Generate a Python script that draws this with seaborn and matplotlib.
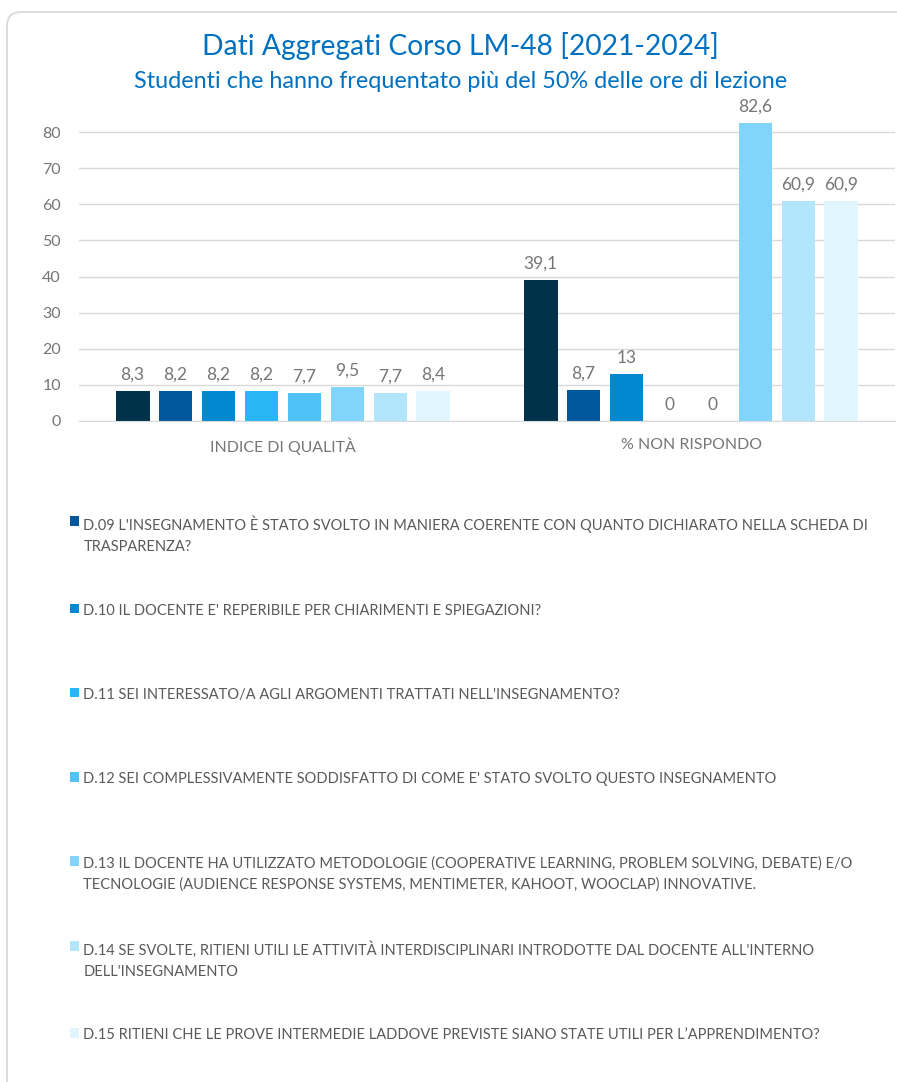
import numpy as np
import pandas as pd
import matplotlib
matplotlib.use("Agg")
import matplotlib.pyplot as plt
import seaborn as sns
from matplotlib.patches import Patch, FancyBboxPatch
from matplotlib.transforms import IdentityTransform

# dati
categories = ["INDICE DI QUALITÀ", "% NON RISPONDO"]
questions = ["D.08", "D.09", "D.10", "D.11", "D.12", "D.13", "D.14", "D.15"]
indice_qualita = [8.3, 8.2, 8.2, 8.2, 7.7, 9.5, 7.7, 8.4]
non_rispondo = [39.1, 8.7, 13, 0, 0, 82.6, 60.9, 60.9]
colors = ["#003249", "#01579B", "#0288D1", "#29B6F6",
          "#4FC3F7", "#81D4FA", "#B3E5FC", "#E1F5FE"]
legend_labels = [
    "D.09 L'INSEGNAMENTO È STATO SVOLTO IN MANIERA COERENTE CON QUANTO DICHIARATO NELLA SCHEDA DI\nTRASPARENZA?",
    "D.10 IL DOCENTE E' REPERIBILE PER CHIARIMENTI E SPIEGAZIONI?",
    "D.11 SEI INTERESSATO/A AGLI ARGOMENTI TRATTATI NELL'INSEGNAMENTO?",
    "D.12 SEI COMPLESSIVAMENTE SODDISFATTO DI COME E' STATO SVOLTO QUESTO INSEGNAMENTO",
    "D.13 IL DOCENTE HA UTILIZZATO METODOLOGIE (COOPERATIVE LEARNING, PROBLEM SOLVING, DEBATE) E/O\nTECNOLOGIE (AUDIENCE RESPONSE SYSTEMS, MENTIMETER, KAHOOT, WOOCLAP) INNOVATIVE.",
    "D.14 SE SVOLTE, RITIENI UTILI LE ATTIVITÀ INTERDISCIPLINARI INTRODOTTE DAL DOCENTE ALL'INTERNO\nDELL'INSEGNAMENTO",
    "D.15 RITIENI CHE LE PROVE INTERMEDIE LADDOVE PREVISTE SIANO STATE UTILI PER L’APPRENDIMENTO?",
]
title = "Dati Aggregati Corso LM-48 [2021-2024]"
subtitle = "Studenti che hanno frequentato più del 50% delle ore di lezione"

df = pd.DataFrame({
    "categoria": [categories[0]] * len(questions) + [categories[1]] * len(questions),
    "domanda": questions * 2,
    "valore": indice_qualita + non_rispondo,
})

sns.set_style("white")
plt.rcParams['font.family'] = ['Lato', 'DejaVu Sans']

GRAY = "#767676"
W, H = 897, 1082
fig = plt.figure(figsize=(W / 100, H / 100), dpi=100)

# cornice della card
card = FancyBboxPatch((7, -100), 1200, 1070 + 100, boxstyle="round,pad=0,rounding_size=14",
                      transform=IdentityTransform(), fill=False, edgecolor="#D9D9D9", lw=1.3)
fig.add_artist(card)

ax = fig.add_axes([79 / W, 1 - 421 / H, (895 - 79) / W, (421 - 95.9) / H])
sns.barplot(data=df, x="categoria", y="valore", hue="domanda", order=categories,
            hue_order=questions, palette=colors, saturation=1, width=0.843, gap=0.21,
            linewidth=0, errorbar=None, legend=False, ax=ax)

ax.set_xlim(-0.5, 1.5)
ax.set_ylim(0, 90)
ax.set_yticks(range(0, 90, 10))
ax.set_xlabel("")
ax.set_ylabel("")
ax.yaxis.grid(True, color="#D9D9D9", lw=1)
ax.set_axisbelow(True)
for s in ["top", "right", "left"]:
    ax.spines[s].set_visible(False)
ax.spines["bottom"].set_color("#D9D9D9")
ax.tick_params(axis="y", length=0, pad=13, labelsize=11.5, labelcolor=GRAY)
ax.tick_params(axis="x", length=0, pad=12, labelsize=11.4, labelcolor=GRAY)

# etichette dati con virgola decimale
for cont in ax.containers:
    labs = [f"{v:g}".replace(".", ",") for v in cont.datavalues]
    ax.bar_label(cont, labels=labs, padding=6, fontsize=12.5, color=GRAY)

fig.text(0.513, 1 - 46 / H, title, ha="center", va="center", fontsize=20.3, color="#0070C0")
fig.text(0.513, 1 - 82 / H, subtitle, ha="center", va="center", fontsize=16.8, color="#0070C0")

# legenda: la prima serie non compare
handles = [Patch(facecolor=c, edgecolor="none") for c in colors[1:]]
labels = [l if "\n" in l else l + "\n " for l in legend_labels]
leg = fig.legend(handles, labels, loc="upper left", bbox_to_anchor=(70 / W, 1 - 516 / H),
                 frameon=False, borderaxespad=0, borderpad=0, handlelength=0.63,
                 handleheight=0.63, handletextpad=0.28, labelspacing=3.37, fontsize=10.55,
                 labelcolor="#595959")
for t in leg.get_texts():
    t.set_linespacing(1.62)
for col in leg._legend_handle_box.get_children():
    for row in col.get_children():
        row.align = "top"

fig.savefig("out.png", dpi=100)
